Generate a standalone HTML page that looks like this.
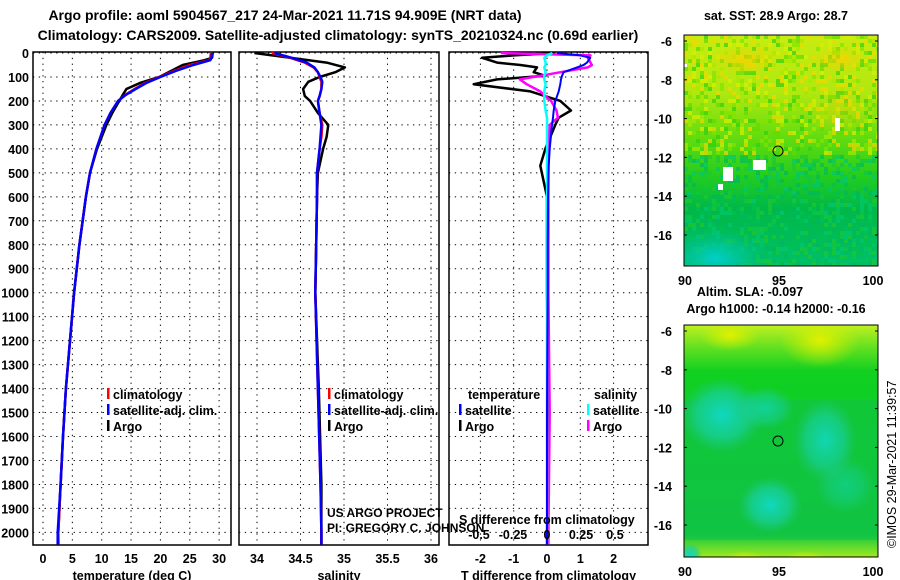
<!DOCTYPE html>
<html><head><meta charset="utf-8"><style>
html,body{margin:0;padding:0;background:#fff;}
svg{display:block;font-family:"Liberation Sans",sans-serif;}
.b{font-weight:bold;font-size:12.5px;fill:#000;}
.t{font-weight:bold;font-size:14px;fill:#000;}
</style></head><body>
<svg id="fig" width="900" height="580" viewBox="0 0 900 580">
<defs>
<linearGradient id="g1" x1="0" y1="0" x2="0" y2="1">
<stop offset="0" stop-color="#c8ec10"/><stop offset="0.25" stop-color="#b0e810"/><stop offset="0.45" stop-color="#60dc10"/><stop offset="0.62" stop-color="#20cc20"/><stop offset="0.75" stop-color="#00b848"/><stop offset="1" stop-color="#00c068"/>
</linearGradient>
<radialGradient id="g1a" cx="0.5" cy="0.5" r="0.5"><stop offset="0" stop-color="#00d0d0" stop-opacity="0.95"/><stop offset="1" stop-color="#00c0a0" stop-opacity="0"/></radialGradient>
<radialGradient id="g1b" cx="0.5" cy="0.5" r="0.5"><stop offset="0" stop-color="#f8d000" stop-opacity="0.8"/><stop offset="1" stop-color="#f0d000" stop-opacity="0"/></radialGradient>
<linearGradient id="g2" x1="0" y1="0" x2="0" y2="1">
<stop offset="0" stop-color="#c0f020"/><stop offset="0.1" stop-color="#60e020"/><stop offset="0.2" stop-color="#10d020"/><stop offset="0.9" stop-color="#10c840"/><stop offset="1" stop-color="#a0e820"/>
</linearGradient>
<radialGradient id="cy" cx="0.5" cy="0.5" r="0.5"><stop offset="0" stop-color="#10d8c0"/><stop offset="0.6" stop-color="#18d0a0" stop-opacity="0.7"/><stop offset="1" stop-color="#20c880" stop-opacity="0"/></radialGradient>
<radialGradient id="ye" cx="0.5" cy="0.5" r="0.5"><stop offset="0" stop-color="#e0f000"/><stop offset="1" stop-color="#d0f000" stop-opacity="0"/></radialGradient>
<clipPath id="c1"><rect x="684" y="35" width="194" height="231"/></clipPath>
<clipPath id="c2"><rect x="684" y="325" width="194" height="232"/></clipPath>
</defs>
<text class="t" x="285" y="20" text-anchor="middle">Argo profile: aoml 5904567_217 24-Mar-2021 11.71S 94.909E (NRT data)</text>
<text class="t" x="338" y="40" text-anchor="middle">Climatology: CARS2009. Satellite-adjusted climatology: synTS_20210324.nc (0.69d earlier)</text>
<g id="p1"></g>
<g id="p2"></g>
<g id="p3"></g>

<g>
<text class="b" x="776" y="20" text-anchor="middle">sat. SST: 28.9 Argo: 28.7</text>
<g clip-path="url(#c1)">
<rect x="684" y="35" width="194" height="231" fill="url(#g1)"/>
<g id="noise"></g>
<ellipse cx="715" cy="258" rx="55" ry="30" fill="url(#g1a)"/>
<ellipse cx="745" cy="60" rx="35" ry="15" fill="url(#g1b)"/>
<ellipse cx="840" cy="60" rx="30" ry="14" fill="url(#g1b)"/>
<ellipse cx="840" cy="110" rx="35" ry="25" fill="url(#g1b)" opacity="0.5"/>
<rect x="753" y="160" width="13" height="10" fill="#fff"/>
<rect x="723" y="167" width="10" height="14" fill="#fff"/>
<rect x="718" y="184" width="5" height="6" fill="#fff"/>
<rect x="835" y="118" width="5" height="13" fill="#fff"/>
<rect x="684" y="64" width="3" height="3" fill="#fff"/>
</g>
<rect x="684" y="35" width="194" height="231" fill="none" stroke="#000"/>
<circle cx="778" cy="151" r="5" fill="none" stroke="#000"/>
</g>
<g>
<text class="b" x="750" y="296" text-anchor="middle">Altim. SLA: -0.097</text>
<text class="b" x="776" y="313" text-anchor="middle">Argo h1000: -0.14 h2000: -0.16</text>
<g clip-path="url(#c2)">
<rect x="684" y="325" width="194" height="232" fill="url(#g2)"/>
<rect x="684" y="400" width="194" height="140" fill="#10c048" opacity="0.5"/>
<ellipse cx="722" cy="415" rx="42" ry="38" fill="url(#cy)"/>
<ellipse cx="765" cy="408" rx="30" ry="22" fill="url(#cy)" opacity="0.7"/>
<ellipse cx="825" cy="440" rx="32" ry="42" fill="url(#cy)" opacity="0.9"/>
<ellipse cx="770" cy="505" rx="32" ry="28" fill="url(#cy)"/>
<ellipse cx="845" cy="485" rx="30" ry="28" fill="url(#cy)" opacity="0.5"/>
<ellipse cx="690" cy="555" rx="12" ry="12" fill="url(#cy)"/>
<ellipse cx="820" cy="340" rx="40" ry="28" fill="url(#ye)"/>
<ellipse cx="730" cy="335" rx="30" ry="16" fill="url(#ye)"/>
<ellipse cx="805" cy="560" rx="22" ry="9" fill="url(#ye)"/>
<ellipse cx="745" cy="560" rx="22" ry="9" fill="url(#ye)"/>
</g>
<rect x="684" y="325" width="194" height="232" fill="none" stroke="#000"/>
<circle cx="778" cy="441" r="5" fill="none" stroke="#000"/>
</g>
<g id="maxes"></g>
<text x="0" y="0" transform="translate(896,548) rotate(-90)" style="font-size:12.5px">©IMOS 29-Mar-2021 11:39:57</text>
</svg>
<script>
// ---------- data ----------
const depthT = [0,20,30,50,75,100,125,150,175,200,250,300,400,500,600,800,1000,1200,1400,1600,1800,2000,2050];
const tempClim = [28.6,28.5,28.3,25.0,22.3,19.8,17.4,15.6,14.0,12.8,11.5,10.5,9.1,8.0,7.3,6.2,5.3,4.6,3.9,3.4,3.0,2.6,2.5];
const tempSat  = [28.8,28.7,28.5,25.6,22.6,20.0,17.6,15.8,14.1,12.8,11.5,10.5,9.1,8.0,7.3,6.2,5.3,4.6,3.9,3.4,3.0,2.5,2.5];
const tempArgo = [28.9,28.8,27.5,23.8,21.8,19.8,16.5,14.2,13.6,13.0,11.8,10.8,9.2,8.0,7.3,6.2,5.3,4.6,3.9,3.4,3.0,2.6,2.6];
const depthS = [0,20,40,60,80,100,120,150,180,200,250,300,350,400,500,600,800,1000,1400,1800,2000,2050];
const salClim = [34.17,34.38,34.55,34.65,34.70,34.72,34.74,34.74,34.72,34.70,34.72,34.75,34.74,34.72,34.69,34.69,34.68,34.67,34.70,34.73,34.74,34.74];
const salSat  = [34.20,34.40,34.57,34.66,34.70,34.73,34.75,34.74,34.72,34.70,34.72,34.74,34.73,34.72,34.69,34.69,34.68,34.67,34.70,34.73,34.74,34.74];
const salArgo = [33.97,34.38,34.80,35.01,34.90,34.72,34.59,34.53,34.55,34.61,34.70,34.82,34.80,34.76,34.70,34.69,34.68,34.67,34.71,34.74,34.74,34.74];
const depthD = [0,10,20,40,50,60,80,95,110,130,160,200,240,270,300,400,470,600,800,1000,1500,2000,2050];
const tDiffSat  = [0.3,1.0,1.3,1.2,1.1,0.9,0.5,0.45,0.42,0.4,0.35,0.25,0.2,0.18,0.15,0.08,0.05,0.03,0.02,0.02,0.0,0.0,0.0];
const tDiffArgo = [0.25,-1.0,-1.95,-1.5,-0.8,-0.3,-0.4,-0.05,-1.5,-2.2,-0.5,0.4,0.72,0.35,0.25,-0.05,-0.2,0.0,0.0,0.0,0.05,0.0,0.0];
const sDiffSat  = [0.04,0.0,-0.02,-0.01,-0.01,-0.02,-0.01,-0.02,-0.02,-0.01,-0.02,-0.02,-0.01,0.0,0.0,0.0,0.0,0.0,0.0,0.0,0.0,0.0,0.0];
const sDiffArgo = [-0.34,0.32,0.30,0.32,0.33,0.30,0.10,-0.05,-0.2,-0.15,-0.05,0.03,0.07,0.08,0.02,0.01,0.01,0.01,0.01,0.01,0.02,0.01,0.01];
const depthTicks = [0,100,200,300,400,500,600,700,800,900,1000,1100,1200,1300,1400,1500,1600,1700,1800,1900,2000];
const tempTicks = [0,5,10,15,20,25,30];
const salTicks = [34,34.5,35,35.5,36];
const tdTicks = [-2,-1,0,1,2];
const sdTicks = [-0.5,-0.25,0,0.25,0.5];
const lonTicks = [90,95,100];
const latTicks = [-6,-8,-10,-12,-14,-16];

// ---------- scales ----------
const NS='http://www.w3.org/2000/svg';
const yD = d => 53 + d*0.2397;
const xT = v => 43 + v*5.87;
const xS = v => 257 + (v-34)*87;
const xTD = v => 547 + v*33.3;
const xSD = v => 547 + v*136;
const xLon = v => 685 + (v-90)*18.8;
const yLat1 = v => 41 + (-6 - v)*19.4;
const yLat2 = v => 331 + (-6 - v)*19.4;
function mk(tag, attrs, parent){const e=document.createElementNS(NS,tag);for(const k in attrs)e.setAttribute(k,attrs[k]);parent.appendChild(e);return e;}
function txt(parent, s, x, y, anchor, cls){const e=mk('text',{x:x,y:y,'text-anchor':anchor||'start','class':cls||'b'},parent);e.textContent=s;return e;}

// texture on SST map (image speckle, not chart data)
(function(){
  const g=document.getElementById('noise');let s=12345;
  const r=()=>{s=(s*1103515245+12345)%2147483648;return s/2147483648;};
  const top=['#d8f000','#a8e800','#60dc00','#f0d800','#80e400','#30d010'];
  const bot=['#00c050','#10c840','#00b860','#20c830','#00c870'];
  for(let j=0;j<58;j++)for(let i=0;i<49;i++){
    if(r()<0.45){const pal=j<30?top:bot;
      mk('rect',{x:684+i*4,y:35+j*4,width:4,height:4,fill:pal[Math.floor(r()*pal.length)],opacity:0.7},g);}
  }
})();

function panel(g, x0, x1, xs, xticks, xlab, xtitle, showY){
  const top=52,bot=545;
  const fr=mk('rect',{x:x0,y:top,width:x1-x0,height:bot-top,fill:'none',stroke:'#000','stroke-width':1.5},g);
  
  
  depthTicks.forEach(d=>{
    const l=mk('line',{x1:x0,x2:x1,y1:yD(d),y2:yD(d),stroke:'#000','stroke-dasharray':'1.3,4.5'},g);
    
    
    if(showY){const t=txt(g,String(d),29,yD(d)+5,'end');
      
      }
  });
  xticks.forEach((v,i)=>{
    const l=mk('line',{x1:xs(v),x2:xs(v),y1:top,y2:bot,stroke:'#000','stroke-dasharray':'1.3,4.5'},g);
    
    
    if(xlab){const t=txt(g,xlab[i],xs(v),563,'middle');
      
      }
  });
  const tt=txt(g,xtitle,(x0+x1)/2,580,'middle');
  
  
}
function line(g, xs, depths, vals, color, w, name){
  const pts=depths.map((d,i)=>xs(vals[i]).toFixed(1)+','+yD(d).toFixed(1)).join(' ');
  const p=mk('polyline',{points:pts,fill:'none',stroke:color,'stroke-width':w,'stroke-linejoin':'round'},g);
  
  
}
function legend(g, x, y, color, label){
  const r=mk('rect',{x:x,y:y-11,width:2.5,height:11,fill:color},g);
  
  
  const t=txt(g,label,x+6,y);
  
  
}

const p1=document.getElementById('p1'),p2=document.getElementById('p2'),p3=document.getElementById('p3');
panel(p1,33,231,xT,tempTicks,tempTicks.map(String),'temperature (deg C)',true);
line(p1,xT,depthT,tempArgo,'#000',2.5,'temperature-argo-line');
line(p1,xT,depthT,tempClim,'#f00',2.5,'temperature-climatology-line');
line(p1,xT,depthT,tempSat,'#00f',2.5,'temperature-satellite-line');
legend(p1,107,399,'#f00','climatology');legend(p1,107,415,'#00f','satellite-adj. clim.');legend(p1,107,431,'#000','Argo');

panel(p2,239,439,xS,salTicks,['34','34.5','35','35.5','36'],'salinity',false);
line(p2,xS,depthS,salArgo,'#000',2.5,'salinity-argo-line');
line(p2,xS,depthS,salClim,'#f00',2.5,'salinity-climatology-line');
line(p2,xS,depthS,salSat,'#00f',2.5,'salinity-satellite-line');
legend(p2,328,399,'#f00','climatology');legend(p2,328,415,'#00f','satellite-adj. clim.');legend(p2,328,431,'#000','Argo');
let u=txt(p2,'US ARGO PROJECT',327,517,'start','');u.setAttribute('style','font-size:12px');

u=txt(p2,'PI: GREGORY C. JOHNSON',327,532,'start','');u.setAttribute('style','font-size:12px');


panel(p3,449,648,xTD,tdTicks,tdTicks.map(String),'T difference from climatology',false);
line(p3,xTD,depthD,tDiffArgo,'#000',2.5,'tdiff-argo-line');
line(p3,xSD,depthD,sDiffArgo,'#f0f',2.5,'sdiff-argo-line');
line(p3,xSD,depthD,sDiffSat,'#0ff',2.5,'sdiff-satellite-line');
line(p3,xTD,depthD,tDiffSat,'#00f',2,'tdiff-satellite-line');
let h=txt(p3,'temperature',468,399);
h=txt(p3,'salinity',594,399);
legend(p3,459,415,'#00f','satellite');legend(p3,459,431,'#000','Argo');
legend(p3,587,415,'#0ff','satellite');legend(p3,587,431,'#f0f','Argo');
h=txt(p3,'S difference from climatology',459,524);
sdTicks.forEach(v=>{const t=txt(p3,String(v),xSD(v),539,'middle');
  
  });

const ma=document.getElementById('maxes');
[[yLat1,266],[yLat2,557]].forEach(([yl,bot])=>{
  latTicks.forEach(v=>{
    const t=txt(ma,String(v),672,yl(v)+5,'end');
    
    
    mk('line',{x1:684,x2:687,y1:yl(v),y2:yl(v),stroke:'#000'},ma);
    mk('line',{x1:875,x2:878,y1:yl(v),y2:yl(v),stroke:'#000'},ma);
  });
  lonTicks.forEach(v=>{
    const t=txt(ma,String(v),xLon(v),bot+19,'middle');
    
    
  });
});
</script>
</body></html>
